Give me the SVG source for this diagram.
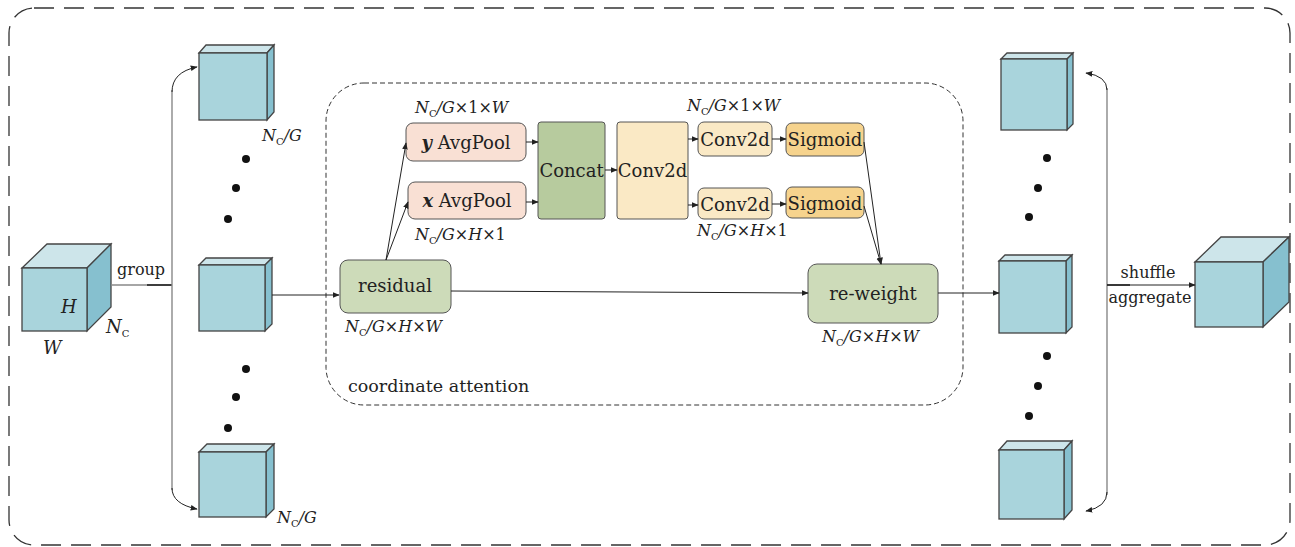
<svg xmlns="http://www.w3.org/2000/svg" width="1295" height="547" viewBox="0 0 1295 547">
<defs>
<marker id="ah" viewBox="0 0 10 10" refX="9" refY="5" markerWidth="7" markerHeight="7" markerUnits="userSpaceOnUse" orient="auto">
<path d="M0,1 L10,5 L0,9 z" fill="#222"/>
</marker>
</defs>
<style>
text{font-family:"DejaVu Serif","Liberation Serif",serif;fill:#222}
.lbl{font-size:16px}
.box{font-size:18px}
.it{font-style:italic}
.big{font-size:18px}
.sub{font-size:10px;font-style:normal}
.front{fill:#a9d4dc;stroke:#444;stroke-width:1.3}
.top{fill:#cde5ea;stroke:#444;stroke-width:1.3}
.side{fill:#86c0cf;stroke:#444;stroke-width:1.3}
.ln{fill:none;stroke:#222;stroke-width:1}
.gl{fill:none;stroke:#888;stroke-width:1.4}
.dot{fill:#111}
</style>
<rect x="9" y="8" width="1281" height="537" rx="25" fill="none" stroke="#333" stroke-width="1.3" stroke-dasharray="20 10"/>
<rect x="326" y="83" width="637" height="322" rx="38" fill="none" stroke="#333" stroke-width="1" stroke-dasharray="5 3"/>
<text x="348" y="392" font-size="17.5">coordinate attention</text>

<g id="cube-input">
<polygon class="top" points="22,268 47,244 111,244 87,268"/>
<polygon class="side" points="87,268 111,244 111,307 87,331"/>
<rect class="front" x="22" y="268" width="65" height="63"/>
<text class="big it" x="61" y="313">H</text>
<text class="big it" x="43" y="354">W</text>
<text class="big" x="106" y="333"><tspan class="it">N</tspan><tspan class="sub" dy="4">C</tspan></text>
</g>

<g id="cube-g1">
<polygon class="top" points="199,53 206,45 274,45 267,53"/>
<polygon class="side" points="267,53 274,45 274,112 267,120"/>
<rect class="front" x="199" y="53" width="68" height="67"/>
<text class="lbl" x="262" y="141"><tspan class="it">N</tspan><tspan class="sub" dy="4">C</tspan><tspan dy="-4" class="it">/G</tspan></text>
</g>
<g id="cube-g2">
<polygon class="top" points="199,265 206,258 272,258 265,265"/>
<polygon class="side" points="265,265 272,258 272,324 265,331"/>
<rect class="front" x="199" y="265" width="66" height="66"/>
</g>
<g id="cube-g3">
<polygon class="top" points="199,452 207,444 274,444 266,452"/>
<polygon class="side" points="266,452 274,444 274,509 266,517"/>
<rect class="front" x="199" y="452" width="67" height="65"/>
<text class="lbl" x="277" y="523"><tspan class="it">N</tspan><tspan class="sub" dy="4">C</tspan><tspan dy="-4" class="it">/G</tspan></text>
</g>
<g id="dots-left">
<circle class="dot" cx="246" cy="159" r="4"/>
<circle class="dot" cx="236" cy="188" r="4"/>
<circle class="dot" cx="228" cy="219" r="4"/>
<circle class="dot" cx="246" cy="369" r="4"/>
<circle class="dot" cx="236" cy="397" r="4"/>
<circle class="dot" cx="228" cy="428" r="4"/>
</g>

<g id="cube-o1">
<polygon class="top" points="1001,59 1007,53 1073,53 1067,59"/>
<polygon class="side" points="1067,59 1073,53 1073,124 1067,130"/>
<rect class="front" x="1001" y="59" width="66" height="71"/>
</g>
<g id="cube-o2">
<polygon class="top" points="999,261 1005,255 1072,255 1066,261"/>
<polygon class="side" points="1066,261 1072,255 1072,327 1066,333"/>
<rect class="front" x="999" y="261" width="67" height="72"/>
</g>
<g id="cube-o3">
<polygon class="top" points="999,450 1007,441 1072,441 1064,450"/>
<polygon class="side" points="1064,450 1072,441 1072,510 1064,519"/>
<rect class="front" x="999" y="450" width="65" height="69"/>
</g>
<g id="dots-right">
<circle class="dot" cx="1047" cy="158" r="4"/>
<circle class="dot" cx="1038" cy="188" r="4"/>
<circle class="dot" cx="1029" cy="217" r="4"/>
<circle class="dot" cx="1047" cy="356" r="4"/>
<circle class="dot" cx="1038" cy="386" r="4"/>
<circle class="dot" cx="1029" cy="416" r="4"/>
</g>

<g id="cube-output">
<polygon class="top" points="1195,262 1221,237 1289,237 1263,262"/>
<polygon class="side" points="1263,262 1289,237 1289,302 1263,327"/>
<rect class="front" x="1195" y="262" width="68" height="65"/>
</g>

<g id="n-yavg">
<rect x="406" y="123" width="120" height="38" rx="7" fill="#f9e0d4" stroke="#555"/>
<text class="box" x="466" y="149" text-anchor="middle"><tspan font-weight="bold" font-style="italic">y</tspan> AvgPool</text>
<text class="lbl" x="415" y="113"><tspan class="it">N</tspan><tspan class="sub" dy="4">C</tspan><tspan dy="-4" class="it">/G</tspan>×1×<tspan class="it">W</tspan></text>
</g>
<g id="n-xavg">
<rect x="408" y="182" width="118" height="37" rx="7" fill="#f9e0d4" stroke="#555"/>
<text class="box" x="467" y="207" text-anchor="middle"><tspan font-weight="bold" font-style="italic">x</tspan> AvgPool</text>
<text class="lbl" x="415" y="240"><tspan class="it">N</tspan><tspan class="sub" dy="4">C</tspan><tspan dy="-4" class="it">/G</tspan>×<tspan class="it">H</tspan>×1</text>
</g>
<g id="n-concat">
<rect x="538" y="122" width="67" height="97" rx="3" fill="#b7cb9e" stroke="#555"/>
<text class="box" x="571.5" y="177" text-anchor="middle">Concat</text>
</g>
<g id="n-conv">
<rect x="617" y="122" width="71" height="97" rx="3" fill="#fae9c5" stroke="#555"/>
<text class="box" x="652.5" y="177" text-anchor="middle">Conv2d</text>
</g>
<g id="n-conv-top">
<rect x="698" y="122" width="74" height="34" rx="6" fill="#fae9c5" stroke="#555"/>
<text class="box" x="735" y="146" text-anchor="middle">Conv2d</text>
<text class="lbl" x="687" y="111"><tspan class="it">N</tspan><tspan class="sub" dy="4">C</tspan><tspan dy="-4" class="it">/G</tspan>×1×<tspan class="it">W</tspan></text>
</g>
<g id="n-sig-top">
<rect x="786" y="123" width="78" height="33" rx="6" fill="#f6d38d" stroke="#555"/>
<text class="box" x="825" y="146" text-anchor="middle">Sigmoid</text>
</g>
<g id="n-conv-bot">
<rect x="698" y="188" width="74" height="31" rx="6" fill="#fae9c5" stroke="#555"/>
<text class="box" x="735" y="211" text-anchor="middle">Conv2d</text>
<text class="lbl" x="697" y="236"><tspan class="it">N</tspan><tspan class="sub" dy="4">C</tspan><tspan dy="-4" class="it">/G</tspan>×<tspan class="it">H</tspan>×1</text>
</g>
<g id="n-sig-bot">
<rect x="786" y="187" width="78" height="31" rx="6" fill="#f6d38d" stroke="#555"/>
<text class="box" x="825" y="210" text-anchor="middle">Sigmoid</text>
</g>
<g id="n-residual">
<rect x="340" y="260" width="111" height="53" rx="8" fill="#cddbb9" stroke="#555"/>
<text class="box" x="395" y="292" text-anchor="middle">residual</text>
<text class="lbl" x="345" y="332"><tspan class="it">N</tspan><tspan class="sub" dy="4">C</tspan><tspan dy="-4" class="it">/G</tspan>×<tspan class="it">H</tspan>×<tspan class="it">W</tspan></text>
</g>
<g id="n-reweight">
<rect x="808" y="264" width="130" height="59" rx="9" fill="#cddbb9" stroke="#555"/>
<text class="box" x="873" y="300" text-anchor="middle">re-weight</text>
<text class="lbl" x="822" y="342"><tspan class="it">N</tspan><tspan class="sub" dy="4">C</tspan><tspan dy="-4" class="it">/G</tspan>×<tspan class="it">H</tspan>×<tspan class="it">W</tspan></text>
</g>

<g id="connectors">
<path class="gl" d="M111,285 H172"/>
<path d="M147,285 H172" stroke="#222" stroke-width="1.6"/>
<text class="lbl" x="117" y="275">group</text>
<path class="gl" d="M172,90 V490"/>
<path class="ln" d="M172,92 Q172,72 197,67" marker-end="url(#ah)"/>
<path class="ln" d="M172,488 Q172,504 197,509" marker-end="url(#ah)"/>
<path class="ln" d="M272,295 H339" marker-end="url(#ah)"/>
<path class="ln" d="M386,260 L406,143" marker-end="url(#ah)"/>
<path class="ln" d="M386,260 L408,202" marker-end="url(#ah)"/>
<path class="ln" d="M526,142 H538" marker-end="url(#ah)"/>
<path class="ln" d="M526,202 H538" marker-end="url(#ah)"/>
<path class="ln" d="M605,170 H617" marker-end="url(#ah)"/>
<path class="ln" d="M688,139 H698" marker-end="url(#ah)"/>
<path class="ln" d="M688,205 H698" marker-end="url(#ah)"/>
<path class="ln" d="M772,139 H786" marker-end="url(#ah)"/>
<path class="ln" d="M772,204 H786" marker-end="url(#ah)"/>
<path class="ln" d="M864,142 L881,264" marker-end="url(#ah)"/>
<path class="ln" d="M864,206 L881,264" marker-end="url(#ah)"/>
<path class="ln" d="M451,291 L808,293" marker-end="url(#ah)"/>
<path class="ln" d="M938,293 H999" marker-end="url(#ah)"/>
<path class="gl" d="M1107,88 V495"/>
<path class="ln" d="M1107,90 Q1107,76 1086,73" marker-end="url(#ah)"/>
<path class="ln" d="M1107,492 Q1107,507 1086,511" marker-end="url(#ah)"/>
<path class="ln" d="M1107,285 H1195" marker-end="url(#ah)"/>
<path d="M1107,285 H1130" stroke="#222" stroke-width="1.6"/>
<text class="lbl" x="1148" y="278" text-anchor="middle">shuffle</text>
<text class="lbl" x="1150" y="303" text-anchor="middle">aggregate</text>
</g>
</svg>
